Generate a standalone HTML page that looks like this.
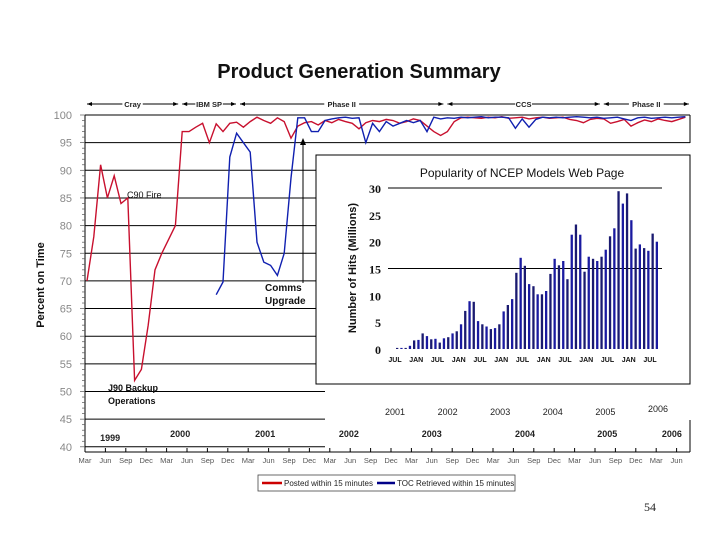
<!DOCTYPE html>
<html><head><meta charset="utf-8"><style>
html,body{margin:0;padding:0;background:#fff}
svg{display:block}
text{font-family:"Liberation Sans",sans-serif}
</style></head><body>
<svg id="chart" width="720" height="540" viewBox="0 0 720 540">
<text x="359" y="78" text-anchor="middle" font-size="20" font-weight="bold" fill="#111">Product Generation Summary</text>
<g id="grid"></g>
<g id="phases"></g>
<g id="yaxis"></g>
<g id="xaxis"></g>
<g id="lines"></g>
<text transform="translate(44,285) rotate(-90)" text-anchor="middle" font-size="11" font-weight="bold" fill="#111">Percent on Time</text>
<text x="127" y="198" font-size="9" fill="#111">C90 Fire</text>
<text x="265" y="291" font-size="10" font-weight="bold" fill="#111">Comms</text>
<text x="265" y="304" font-size="10" font-weight="bold" fill="#111">Upgrade</text>
<line x1="303" y1="283" x2="303" y2="142" stroke="#000" stroke-width="1"/>
<polygon points="300,145 306,145 303,138" fill="#000"/>
<text x="108" y="391" font-size="9" font-weight="bold" fill="#111">J90 Backup</text>
<text x="108" y="404" font-size="9" font-weight="bold" fill="#111">Operations</text>
<g id="years"></g>
<g id="inset"></g>
<g>
<rect x="258" y="475" width="257" height="16" fill="#fff" stroke="#444" stroke-width="0.8"/>
<line x1="262" y1="483" x2="282" y2="483" stroke="#c00" stroke-width="2.5"/>
<text x="284" y="486" font-size="8" fill="#222">Posted within 15 minutes</text>
<line x1="377" y1="483" x2="395" y2="483" stroke="#008" stroke-width="2.5"/>
<text x="397" y="486" font-size="8" fill="#222">TOC Retrieved within 15 minutes</text>
</g>
<text x="650" y="511" text-anchor="middle" font-size="12" font-family="Liberation Serif" fill="#222" style="font-family:'Liberation Serif',serif">54</text>
</svg>
<script>
const yTicks=[100,95,90,85,80,75,70,65,60,55,50,45,40];
const monthLabels=["Mar","Jun","Sep","Dec"];
const redSeries=[70,78,91,85,89,84,85,52,54,62,72,75,77.5,80,97,97,97.8,98.5,95,98.4,97,98.5,98.7,97.8,98.8,99.6,99,98.5,99.5,98.8,95.8,98,98.6,98.8,98.2,99,98.6,99.2,98.8,98.5,97.5,98.6,99,98.8,99.2,99,98.5,98.8,99.3,99,98,97,96.3,97,98.8,99.5,99.6,99.5,99.4,99.6,99.5,99.7,99.4,99.5,99.6,99.3,99.5,99.6,99.4,99.5,99.6,99.2,99,98.6,99.2,99.4,99.3,98.5,98.8,99.2,98,98.6,99.1,98.8,99.3,99,98.8,99.2,99.6];
const blueSeries=[null,null,null,null,null,null,null,null,null,null,null,null,null,null,null,null,null,null,null,67.5,69.8,92.4,96.7,95,93.3,77,73.4,72.8,71,75,88.6,99.5,99.5,97,97,99,99.3,99.5,99.6,99.4,99.5,95,98.5,97,98.8,98,98.5,99,98.6,99,97,99.6,99.3,99.5,99.4,99.6,99.5,99.6,99.7,99.5,99.6,99.6,99.5,97.6,99.3,97.8,99.2,99.6,99.5,99.6,99.5,99.6,99.7,99.6,99.5,99.6,99.4,99.5,99.6,99.3,99,99.5,99.6,99.4,99.5,99.6,99.5,99.6,99.7];
const phaseNames=["Cray","IBM SP","Phase II","CCS","Phase II"];
const phaseStarts=[0,14,22.5,53,76];
const phaseEnds=[13.7,22.2,52.7,75.7,88.8];
const yearLabels=["1999","2000","2001","2002","2003","2004","2005","2006"];
const yearMonth=[3.7,14,26.5,38.8,51,64.7,76.8,86.3];
const insetTicks=[0,5,10,15,20,25,30];
const insetXLabels=["JUL","JAN","JUL","JAN","JUL","JAN","JUL","JAN","JUL","JAN","JUL","JAN","JUL"];
const insetYears=["2001","2002","2003","2004","2005","2006"];
const hits=[0.2,0.2,0.2,0.6,1.6,1.7,2.9,2.4,1.8,1.9,1.2,2.0,2.2,2.9,3.3,4.6,7.1,8.9,8.8,5.2,4.6,4.2,3.7,3.9,4.6,7.0,8.2,9.3,14.2,17.0,15.5,12.1,11.7,10.2,10.2,10.8,14.0,16.8,15.6,16.4,13.0,21.3,23.2,21.3,14.4,17.2,16.8,16.4,17.2,18.5,21.0,22.5,29.4,27.1,29.0,24.0,18.7,19.5,18.8,18.3,21.5,20.0];

const NS="http://www.w3.org/2000/svg";
function mk(parent,tag,attrs,txt){const e=document.createElementNS(NS,tag);for(const k in attrs)e.setAttribute(k,attrs[k]);if(txt!==undefined)e.textContent=txt;parent.appendChild(e);return e;}
const X0=85,MW=6.8,Y100=115,YS=5.53;
const xm=m=>X0+m*MW;
const yv=v=>Y100+(100-v)*YS;

const grid=document.getElementById('grid');
yTicks.forEach((t,i)=>{
  const y=yv(t);
  const l=mk(grid,'line',{x1:X0,y1:y,x2:(t>=95?690:(t<=50?325:316)),y2:y,stroke:'#000','stroke-width':1});
  
  
});
const fr=mk(grid,'line',{x1:690,y1:115,x2:690,y2:143,stroke:'#000'});


const fr2=mk(grid,'line',{x1:690,y1:420,x2:690,y2:452,stroke:'#000'});



const ya=document.getElementById('yaxis');
const ax=mk(ya,'line',{x1:X0,y1:115,x2:X0,y2:452,stroke:'#000'});


for(let v=40;v<=100;v++){
  const t=mk(ya,'line',{x1:X0-(v%5?3:5),y1:yv(v),x2:X0,y2:yv(v),stroke:'#555','stroke-width':0.7});
  
  
}
yTicks.forEach(t=>{
  const e=mk(ya,'text',{x:72,y:yv(t)+4,'text-anchor':'end','font-size':11,fill:'#888'},t);
  
  
});

const xa=document.getElementById('xaxis');
const xl=mk(xa,'line',{x1:X0,y1:452,x2:690,y2:452,stroke:'#000'});


for(let i=0;i<30;i++){
  const x=xm(i*3);
  const tk=mk(xa,'line',{x1:x,y1:448,x2:x,y2:452,stroke:'#000'});
  
  
  const tx=mk(xa,'text',{x:x,y:463,'text-anchor':'middle','font-size':7.5,fill:'#555'},monthLabels[i%4]);
  
  
}

const ph=document.getElementById('phases');
phaseNames.forEach((n,i)=>{
  const a=xm(phaseStarts[i])+2,b=xm(phaseEnds[i]),c=(a+b)/2,y=104,w=n.length*3.6+6;
  const l1=mk(ph,'line',{x1:a,y1:y,x2:c-w/2,y2:y,stroke:'#000'});
  
  
  const l2=mk(ph,'line',{x1:c+w/2,y1:y,x2:b,y2:y,stroke:'#000'});
  
  
  mk(ph,'polygon',{points:`${a},${y} ${a+5},${y-2} ${a+5},${y+2}`,fill:'#000'});
  mk(ph,'polygon',{points:`${b},${y} ${b-5},${y-2} ${b-5},${y+2}`,fill:'#000'});
  const t=mk(ph,'text',{x:c,y:y+3,'text-anchor':'middle','font-size':7.5,'font-weight':'bold',fill:'#222'},n);
  
  
});

const yr=document.getElementById('years');
yearLabels.forEach((n,i)=>{
  const t=mk(yr,'text',{x:xm(yearMonth[i]),y:i==0?441:437,'text-anchor':'middle','font-size':9,'font-weight':'bold',fill:'#222'},n);
  
  
});

const lines=document.getElementById('lines');
function path(series,col,name){
  let d='';series.forEach((v,i)=>{if(v==null)return;d+=(d?'L':'M')+(xm(i)+2).toFixed(1)+','+yv(v).toFixed(1);});
  const p=mk(lines,'path',{d:d,fill:'none',stroke:col,'stroke-width':1.4});
  
  
}
path(redSeries,'#c8102e','posted-series-line');
path(blueSeries,'#1020b0','toc-series-line');

// inset
const ins=document.getElementById('inset');
const box=mk(ins,'rect',{x:316,y:155,width:374,height:229,fill:'#fff',stroke:'#000','stroke-width':1});


const it=mk(ins,'text',{x:522,y:177,'text-anchor':'middle','font-size':12,fill:'#111'},'Popularity of NCEP Models Web Page');


const IX0=388,IX1=662,IY0=349,IPS=161/30;
const iy=v=>IY0-v*IPS;
[30,15].forEach(v=>{
  const l=mk(ins,'line',{x1:IX0,y1:iy(v),x2:IX1,y2:iy(v),stroke:'#000'});
  
  
});
insetTicks.forEach(v=>{
  const t=mk(ins,'text',{x:381,y:iy(v)+5,'text-anchor':'end','font-size':12,'font-weight':'bold',style:"font-family:'Liberation Serif',serif",fill:'#111'},v);
  
  
});
const iyt=mk(ins,'text',{transform:'translate(356,268) rotate(-90)','text-anchor':'middle','font-size':11,'font-weight':'bold',fill:'#111'},'Number of Hits (Millions)');


const bw=(IX1-IX0-10)/hits.length;
hits.forEach((v,i)=>{
  const x=IX0+8+i*bw;
  const r=mk(ins,'rect',{x:x.toFixed(1),y:iy(v).toFixed(1),width:2.3,height:(v*IPS).toFixed(1),fill:i%2?'#1a1aa0':'#1a1a70'});
  
  
});
insetXLabels.forEach((n,i)=>{
  const x=395+i*21.25;
  const t=mk(ins,'text',{x:x,y:362,'text-anchor':'middle','font-size':7,'font-weight':'bold',fill:'#111'},n);
  
  
});
insetYears.forEach((n,i)=>{
  const t=mk(document.getElementById('years'),'text',{x:395+i*52.6,y:i==5?412:415,'text-anchor':'middle','font-size':9,fill:'#222'},n);
  
  
});
</script>
</body></html>
